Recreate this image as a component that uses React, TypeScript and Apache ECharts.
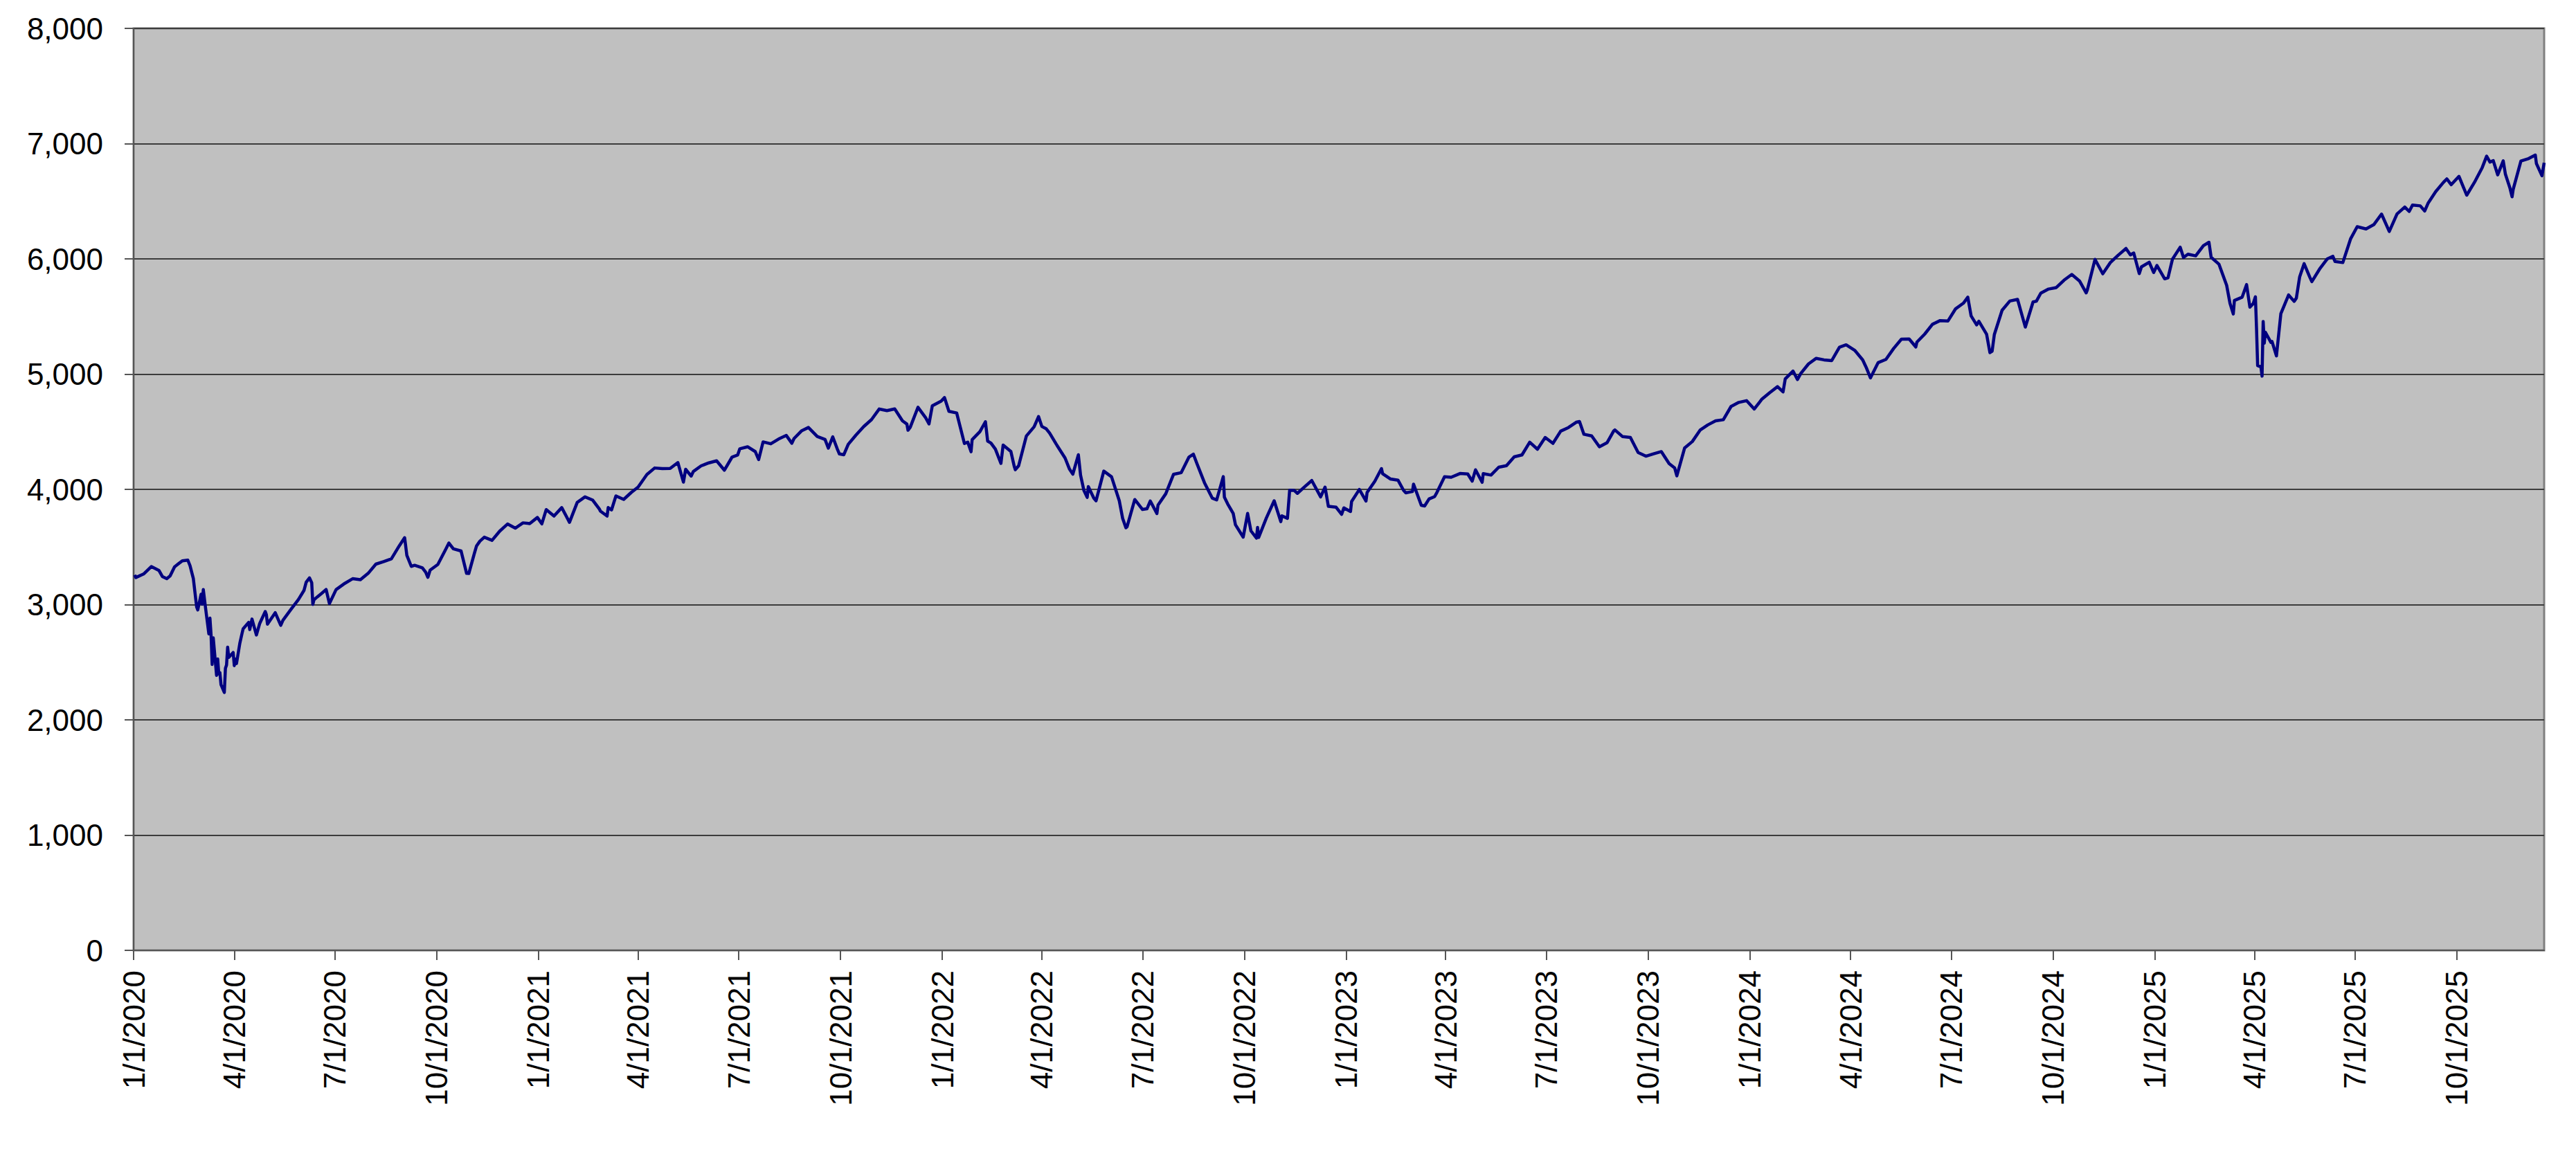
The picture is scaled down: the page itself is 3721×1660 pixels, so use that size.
import React, { useEffect, useRef } from "react";
import * as echarts from "echarts";

// ---- data: S&P 500 closes ----
const s2020: [string, number][] = [
  ["2020-01-02",3257.85],["2020-01-03",3234.85],["2020-01-10",3265.35],["2020-01-17",3329.62],["2020-01-24",3295.47],["2020-01-27",3243.63],["2020-01-31",3225.52],["2020-02-03",3248.92],["2020-02-07",3327.71],["2020-02-14",3380.16],["2020-02-19",3386.15],["2020-02-21",3337.75],["2020-02-24",3225.89],["2020-02-27",2978.76],["2020-02-28",2954.22],["2020-03-02",3090.23],["2020-03-03",3003.37],["2020-03-04",3130.12],["2020-03-06",2972.37],["2020-03-09",2746.56],["2020-03-10",2882.23],["2020-03-11",2741.38],["2020-03-12",2480.64],["2020-03-13",2711.02],["2020-03-16",2386.13],["2020-03-17",2529.19],["2020-03-18",2398.10],["2020-03-19",2409.39],["2020-03-20",2304.92],["2020-03-23",2237.40],["2020-03-24",2447.33],["2020-03-25",2475.56],["2020-03-26",2630.07],["2020-03-27",2541.47],["2020-03-31",2584.59],["2020-04-01",2470.50],["2020-04-02",2526.90],["2020-04-03",2488.65],["2020-04-06",2663.68],["2020-04-08",2749.98],["2020-04-09",2789.82],["2020-04-14",2846.06],["2020-04-15",2783.36],["2020-04-17",2874.56],["2020-04-21",2736.56],["2020-04-24",2836.74],["2020-04-29",2939.51],["2020-04-30",2912.43],["2020-05-01",2830.71],["2020-05-08",2929.80],["2020-05-13",2820.00],["2020-05-15",2863.70],["2020-05-22",2955.45],["2020-05-29",3044.31],["2020-06-03",3122.87],["2020-06-05",3193.93],["2020-06-08",3232.39],["2020-06-10",3190.14],["2020-06-11",3002.10],["2020-06-12",3041.31],["2020-06-15",3066.59],["2020-06-19",3097.74],["2020-06-23",3131.29],["2020-06-26",3009.05],["2020-07-02",3130.01],["2020-07-10",3185.04],["2020-07-17",3224.73],["2020-07-24",3215.63],["2020-07-31",3271.12],["2020-08-07",3351.28],["2020-08-14",3372.85],["2020-08-21",3397.16],["2020-08-28",3508.01],["2020-09-02",3580.84],["2020-09-04",3426.96],["2020-09-08",3331.84],["2020-09-11",3340.97],["2020-09-18",3319.47],["2020-09-21",3281.06],["2020-09-23",3236.92],["2020-09-25",3298.46],["2020-10-02",3348.44],["2020-10-09",3477.13],["2020-10-12",3534.22],["2020-10-16",3483.81],["2020-10-23",3465.39],["2020-10-28",3271.03],["2020-10-30",3269.96],["2020-11-04",3443.44],["2020-11-06",3509.44],["2020-11-09",3550.50],["2020-11-13",3585.15],["2020-11-20",3557.54],["2020-11-27",3638.35],["2020-12-04",3699.12],["2020-12-11",3663.46],["2020-12-18",3709.41],["2020-12-24",3703.06],["2020-12-31",3756.07],
];
const s2021: [string, number][] = [
  ["2021-01-04",3700.65],["2021-01-08",3824.68],["2021-01-15",3768.25],["2021-01-22",3841.47],["2021-01-27",3750.77],["2021-01-29",3714.24],["2021-02-05",3886.83],["2021-02-12",3934.83],["2021-02-19",3906.71],["2021-02-25",3829.34],["2021-02-26",3811.15],["2021-03-04",3768.47],["2021-03-05",3841.94],["2021-03-08",3821.35],["2021-03-12",3943.34],["2021-03-19",3913.10],["2021-03-26",3974.54],["2021-04-01",4019.87],["2021-04-09",4128.80],["2021-04-16",4185.47],["2021-04-23",4180.17],["2021-04-30",4181.17],["2021-05-07",4232.60],["2021-05-12",4063.04],["2021-05-14",4173.85],["2021-05-19",4115.68],["2021-05-21",4155.86],["2021-05-28",4204.11],["2021-06-04",4229.89],["2021-06-11",4247.44],["2021-06-18",4166.45],["2021-06-25",4280.70],["2021-06-30",4297.50],["2021-07-02",4352.34],["2021-07-09",4369.55],["2021-07-16",4327.16],["2021-07-19",4258.49],["2021-07-23",4411.79],["2021-07-30",4395.26],["2021-08-06",4436.52],["2021-08-13",4468.00],["2021-08-18",4400.27],["2021-08-20",4441.67],["2021-08-27",4509.37],["2021-09-02",4536.95],["2021-09-10",4458.58],["2021-09-17",4432.99],["2021-09-20",4357.73],["2021-09-24",4455.48],["2021-09-28",4352.63],["2021-09-30",4307.54],["2021-10-04",4300.46],["2021-10-08",4391.34],["2021-10-15",4471.37],["2021-10-22",4544.90],["2021-10-29",4605.38],["2021-11-05",4697.53],["2021-11-12",4682.85],["2021-11-19",4697.96],["2021-11-26",4594.62],["2021-11-30",4567.00],["2021-12-01",4513.04],["2021-12-03",4538.43],["2021-12-10",4712.02],["2021-12-17",4620.64],["2021-12-20",4568.02],["2021-12-23",4725.79],["2021-12-31",4766.18],
];
const s2022: [string, number][] = [
  ["2022-01-03",4796.56],["2022-01-07",4677.03],["2022-01-14",4662.85],["2022-01-21",4397.94],["2022-01-24",4410.13],["2022-01-27",4326.51],["2022-01-28",4431.85],["2022-02-04",4500.53],["2022-02-09",4587.18],["2022-02-11",4418.64],["2022-02-14",4401.67],["2022-02-18",4348.87],["2022-02-23",4225.50],["2022-02-25",4384.65],["2022-03-04",4328.87],["2022-03-07",4201.09],["2022-03-08",4170.70],["2022-03-11",4204.31],["2022-03-18",4463.12],["2022-03-25",4543.06],["2022-03-29",4631.60],["2022-04-01",4545.86],["2022-04-05",4525.12],["2022-04-08",4488.28],["2022-04-14",4392.59],["2022-04-22",4271.78],["2022-04-26",4175.20],["2022-04-29",4131.93],["2022-05-04",4300.17],["2022-05-06",4123.34],["2022-05-09",3991.24],["2022-05-12",3930.08],["2022-05-13",4023.89],["2022-05-18",3923.68],["2022-05-20",3901.36],["2022-05-27",4158.24],["2022-06-03",4108.54],["2022-06-10",3900.86],["2022-06-13",3749.63],["2022-06-16",3666.77],["2022-06-17",3674.84],["2022-06-24",3911.74],["2022-07-01",3825.33],["2022-07-05",3831.39],["2022-07-08",3899.38],["2022-07-14",3790.38],["2022-07-15",3863.16],["2022-07-22",3961.63],["2022-07-29",4130.29],["2022-08-05",4145.19],["2022-08-12",4280.15],["2022-08-16",4305.20],["2022-08-19",4228.48],["2022-08-26",4057.66],["2022-09-02",3924.26],["2022-09-06",3908.19],["2022-09-12",4110.41],["2022-09-13",3932.69],["2022-09-16",3873.33],["2022-09-21",3789.93],["2022-09-23",3693.23],["2022-09-30",3585.62],["2022-10-04",3790.93],["2022-10-07",3639.66],["2022-10-12",3577.03],["2022-10-13",3669.91],["2022-10-14",3583.07],["2022-10-21",3752.75],["2022-10-28",3901.06],["2022-11-03",3719.89],["2022-11-04",3770.55],["2022-11-09",3748.57],["2022-11-11",3992.93],["2022-11-15",3991.73],["2022-11-18",3965.34],["2022-11-25",4026.12],["2022-12-01",4076.57],["2022-12-09",3934.38],["2022-12-13",4019.65],["2022-12-16",3852.36],["2022-12-23",3844.82],["2022-12-28",3783.22],["2022-12-30",3839.50],
];
const s2023: [string, number][] = [
  ["2023-01-05",3808.10],["2023-01-06",3895.08],["2023-01-13",3999.09],["2023-01-19",3898.85],["2023-01-20",3972.61],["2023-01-27",4070.56],["2023-02-02",4179.76],["2023-02-03",4136.48],["2023-02-10",4090.46],["2023-02-17",4079.09],["2023-02-22",3991.05],["2023-02-24",3970.04],["2023-03-02",3981.35],["2023-03-03",4045.64],["2023-03-10",3861.59],["2023-03-13",3855.76],["2023-03-17",3916.64],["2023-03-22",3936.97],["2023-03-24",3970.99],["2023-03-31",4109.31],["2023-04-06",4105.02],["2023-04-14",4137.64],["2023-04-21",4133.52],["2023-04-25",4071.63],["2023-04-28",4169.48],["2023-05-04",4061.22],["2023-05-05",4136.25],["2023-05-12",4124.08],["2023-05-19",4191.98],["2023-05-26",4205.45],["2023-06-02",4282.37],["2023-06-09",4298.86],["2023-06-16",4409.59],["2023-06-23",4348.33],["2023-06-30",4450.38],["2023-07-07",4398.95],["2023-07-14",4505.42],["2023-07-21",4536.34],["2023-07-28",4582.23],["2023-07-31",4588.96],["2023-08-04",4478.03],["2023-08-11",4464.05],["2023-08-18",4369.71],["2023-08-25",4405.71],["2023-08-31",4507.66],["2023-09-01",4515.77],["2023-09-08",4457.49],["2023-09-15",4450.32],["2023-09-22",4320.06],["2023-09-29",4288.05],["2023-10-06",4308.50],["2023-10-13",4327.78],["2023-10-20",4224.16],["2023-10-25",4186.77],["2023-10-27",4117.37],["2023-11-03",4358.34],["2023-11-10",4415.24],["2023-11-17",4514.02],["2023-11-24",4559.34],["2023-12-01",4594.63],["2023-12-08",4604.37],["2023-12-15",4719.19],["2023-12-22",4754.63],["2023-12-29",4769.83],
];
const s2024: [string, number][] = [
  ["2024-01-05",4697.24],["2024-01-12",4783.83],["2024-01-19",4839.81],["2024-01-26",4890.97],["2024-01-31",4845.65],["2024-02-02",4958.61],["2024-02-09",5026.61],["2024-02-13",4953.17],["2024-02-16",5005.57],["2024-02-23",5088.80],["2024-03-01",5137.08],["2024-03-08",5123.69],["2024-03-15",5117.09],["2024-03-22",5234.18],["2024-03-28",5254.35],["2024-04-05",5204.34],["2024-04-12",5123.41],["2024-04-15",5061.82],["2024-04-19",4967.23],["2024-04-26",5099.96],["2024-05-03",5127.79],["2024-05-10",5222.68],["2024-05-17",5303.27],["2024-05-24",5304.72],["2024-05-30",5235.48],["2024-05-31",5277.51],["2024-06-07",5346.99],["2024-06-14",5431.60],["2024-06-21",5464.62],["2024-06-28",5460.48],["2024-07-05",5567.19],["2024-07-12",5615.35],["2024-07-16",5667.20],["2024-07-19",5505.00],["2024-07-24",5427.13],["2024-07-26",5459.10],["2024-08-02",5346.56],["2024-08-05",5186.33],["2024-08-07",5199.50],["2024-08-09",5344.16],["2024-08-16",5554.25],["2024-08-23",5634.61],["2024-08-30",5648.40],["2024-09-06",5408.42],["2024-09-13",5626.02],["2024-09-16",5633.09],["2024-09-20",5702.55],["2024-09-27",5738.17],["2024-10-04",5751.07],["2024-10-11",5815.03],["2024-10-18",5864.67],["2024-10-25",5808.12],["2024-10-31",5705.45],["2024-11-01",5728.80],["2024-11-08",5995.54],["2024-11-15",5870.62],["2024-11-22",5969.34],["2024-11-29",6032.38],["2024-12-06",6090.27],["2024-12-10",6034.91],["2024-12-13",6051.09],["2024-12-18",5872.16],["2024-12-20",5930.85],["2024-12-27",5970.84],["2024-12-31",5881.63],
];
const s2025: [string, number][] = [
  ["2025-01-03",5942.47],["2025-01-10",5827.04],["2025-01-13",5836.22],["2025-01-17",5996.66],["2025-01-24",6101.24],["2025-01-27",6012.28],["2025-01-31",6040.53],["2025-02-07",6025.99],["2025-02-14",6114.63],["2025-02-19",6144.15],["2025-02-21",6013.13],["2025-02-28",5954.50],["2025-03-07",5770.20],["2025-03-10",5614.56],["2025-03-13",5521.52],["2025-03-14",5638.94],["2025-03-21",5667.56],["2025-03-25",5776.65],["2025-03-28",5580.94],["2025-03-31",5611.85],["2025-04-02",5670.97],["2025-04-03",5396.52],["2025-04-04",5074.08],["2025-04-07",5062.25],["2025-04-08",4982.77],["2025-04-09",5456.90],["2025-04-10",5268.05],["2025-04-11",5363.36],["2025-04-16",5275.70],["2025-04-17",5282.70],["2025-04-21",5158.20],["2025-04-25",5525.21],["2025-05-02",5686.67],["2025-05-07",5631.28],["2025-05-09",5659.91],["2025-05-12",5844.19],["2025-05-16",5958.38],["2025-05-21",5844.61],["2025-05-23",5802.82],["2025-05-30",5911.69],["2025-06-06",6000.36],["2025-06-11",6022.24],["2025-06-13",5976.97],["2025-06-20",5967.84],["2025-06-27",6173.07],["2025-07-03",6279.35],["2025-07-11",6259.75],["2025-07-18",6296.79],["2025-07-25",6388.64],["2025-08-01",6238.01],["2025-08-08",6389.45],["2025-08-15",6449.80],["2025-08-19",6411.37],["2025-08-22",6466.91],["2025-08-29",6460.26],["2025-09-02",6415.54],["2025-09-05",6481.50],["2025-09-12",6584.29],["2025-09-19",6664.36],["2025-09-22",6693.75],["2025-09-26",6643.70],["2025-10-03",6715.79],["2025-10-10",6552.51],["2025-10-17",6664.01],["2025-10-24",6791.69],["2025-10-28",6890.89],["2025-10-31",6840.20],["2025-11-03",6851.97],["2025-11-07",6728.80],["2025-11-12",6850.92],["2025-11-14",6734.11],["2025-11-18",6617.32],["2025-11-20",6538.76],["2025-11-21",6602.99],["2025-11-28",6849.09],["2025-12-05",6870.40],["2025-12-11",6901.00],["2025-12-12",6827.41],["2025-12-17",6721.43],["2025-12-19",6834.50],
];

const X_MIN = "2020-01-01";
const X_MAX = "2025-12-19";
const quarterTicks: string[] = [
  "2020-01-01","2020-04-01","2020-07-01","2020-10-01",
  "2021-01-01","2021-04-01","2021-07-01","2021-10-01",
  "2022-01-01","2022-04-01","2022-07-01","2022-10-01",
  "2023-01-01","2023-04-01","2023-07-01","2023-10-01",
  "2024-01-01","2024-04-01","2024-07-01","2024-10-01",
  "2025-01-01","2025-04-01","2025-07-01","2025-10-01",
];
const Y_MIN = 0;
const Y_MAX = 8000;
const Y_STEP = 1000;

const toTs = (s: string) => {
  const [y, m, d] = s.split("-").map(Number);
  return Date.UTC(y, m - 1, d);
};
const fmtDate = (v: number) => {
  const d = new Date(v);
  return `${d.getUTCMonth() + 1}/${d.getUTCDate()}/${d.getUTCFullYear()}`;
};

export default function App() {
  const ref = useRef<HTMLDivElement>(null);
  useEffect(() => {
    if (!ref.current) return;
    const chart = echarts.init(ref.current, null, { renderer: "svg" });
    const all = [...s2020, ...s2021, ...s2022, ...s2023, ...s2024, ...s2025]
      .map(([d, v]) => [toTs(d), v] as [number, number])
      .sort((a, b) => a[0] - b[0]);
    const ticks = quarterTicks.map(toTs);
    const font = "'Liberation Sans', Arial, sans-serif";
    chart.setOption({
      animation: false,
      backgroundColor: "#ffffff",
      grid: {
        left: 193,
        right: 46,
        top: 41,
        bottom: 287,
        show: true,
        backgroundColor: "#C0C0C0",
        borderColor: "#808080",
        borderWidth: 3,
        containLabel: false,
      },
      xAxis: {
        type: "value",
        min: toTs(X_MIN),
        max: toTs(X_MAX),
        splitLine: { show: false },
        axisLine: { show: true, onZero: false, lineStyle: { color: "#555555", width: 2 } },
        axisTick: {
          show: true,
          length: 14,
          customValues: ticks,
          lineStyle: { color: "#555555", width: 2 },
        },
        axisLabel: {
          customValues: ticks,
          rotate: 90,
          margin: 29,
          fontSize: 44,
          fontFamily: font,
          color: "#000000",
          formatter: (v: number) => fmtDate(v),
        },
      },
      yAxis: {
        type: "value",
        min: Y_MIN,
        max: Y_MAX,
        interval: Y_STEP,
        axisLine: { show: true, lineStyle: { color: "#555555", width: 2 } },
        axisTick: { show: true, length: 13, lineStyle: { color: "#555555", width: 2 } },
        splitLine: { show: true, lineStyle: { color: "#3c3c3c", width: 2 } },
        axisLabel: {
          margin: 44,
          fontSize: 44,
          fontFamily: font,
          color: "#000000",
          formatter: (v: number) => v.toLocaleString("en-US"),
        },
      },
      series: [
        {
          type: "line",
          data: all,
          showSymbol: false,
          symbol: "none",
          lineStyle: { color: "#000080", width: 4.5, join: "round" },
          itemStyle: { color: "#000080" },
        },
      ],
    });
    return () => chart.dispose();
  }, []);
  return (
    <div
      ref={ref}
      style={{ position: "fixed", left: 0, top: 0, width: 3721, height: 1660, background: "#fff" }}
    />
  );
}
